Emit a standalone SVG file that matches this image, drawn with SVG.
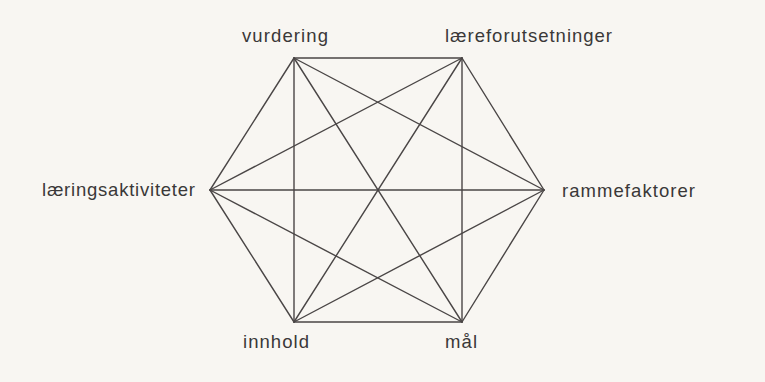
<svg xmlns="http://www.w3.org/2000/svg" width="765" height="382" viewBox="0 0 765 382">
<style>
.e{stroke:#4a4646;stroke-width:1.4;fill:none;stroke-linecap:round}
.t{font-family:"Liberation Sans",Arial,sans-serif;font-size:18.5px;fill:#3a3838}
</style>
<rect width="765" height="382" fill="#f8f6f2"/>
<g id="connectors">
<line class="e" x1="294" y1="58" x2="462" y2="58"/>
<line class="e" x1="294" y1="58" x2="544" y2="190"/>
<line class="e" x1="294" y1="58" x2="462" y2="322"/>
<line class="e" x1="294" y1="58" x2="294" y2="322"/>
<line class="e" x1="294" y1="58" x2="210" y2="190"/>
<line class="e" x1="462" y1="58" x2="544" y2="190"/>
<line class="e" x1="462" y1="58" x2="462" y2="322"/>
<line class="e" x1="462" y1="58" x2="294" y2="322"/>
<line class="e" x1="462" y1="58" x2="210" y2="190"/>
<line class="e" x1="544" y1="190" x2="462" y2="322"/>
<line class="e" x1="544" y1="190" x2="294" y2="322"/>
<line class="e" x1="544" y1="190" x2="210" y2="190"/>
<line class="e" x1="462" y1="322" x2="294" y2="322"/>
<line class="e" x1="462" y1="322" x2="210" y2="190"/>
<line class="e" x1="294" y1="322" x2="210" y2="190"/>
</g>
<g id="vurdering"><text class="t" x="242" y="42" textLength="86" lengthAdjust="spacing">vurdering</text></g>
<g id="laereforutsetninger"><text class="t" x="445" y="42" textLength="167" lengthAdjust="spacing">læreforutsetninger</text></g>
<g id="laeringsaktiviteter"><text class="t" x="42" y="196" textLength="153" lengthAdjust="spacing">læringsaktiviteter</text></g>
<g id="rammefaktorer"><text class="t" x="562" y="197" textLength="133" lengthAdjust="spacing">rammefaktorer</text></g>
<g id="innhold"><text class="t" x="243" y="348" textLength="66" lengthAdjust="spacing">innhold</text></g>
<g id="mal"><text class="t" x="445" y="348" textLength="32" lengthAdjust="spacing">mål</text></g>
</svg>
